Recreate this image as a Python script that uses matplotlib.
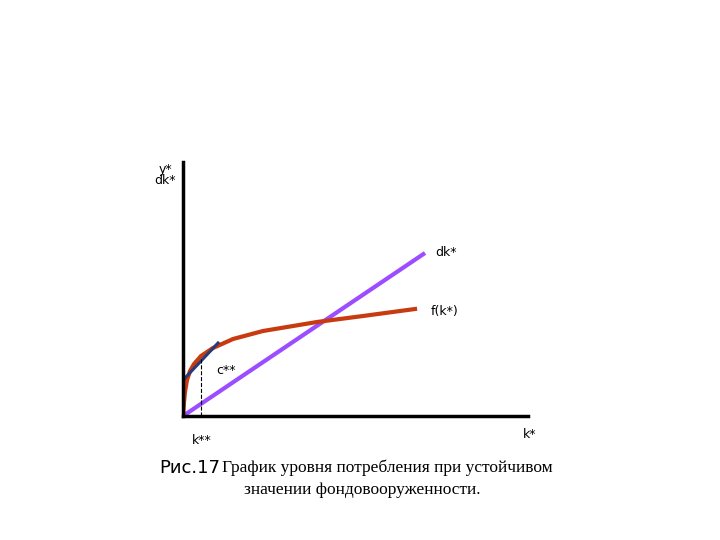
import matplotlib.pyplot as plt

# curve f(k*) (axes units)
fk_x = [0, 1, 2, 4, 7, 11, 18, 30, 50, 80, 110, 134, 180, 232]
fk_y = [0, 14, 24, 36, 45, 52, 60, 68, 77, 85, 90, 94, 100, 107]
dk_x = [0, 242]
dk_y = [0, 163]
tan_x = [2, 35]
tan_y = [38, 73]
k_star2 = 18
c_star2 = 58

fig = plt.figure(figsize=(7.2, 5.4), dpi=100)
ax = fig.add_axes([183/720, 124/540, 345/720, 254/540])
ax.set_xlim(0, 345)
ax.set_ylim(0, 254)
for s in ['top', 'right']:
    ax.spines[s].set_visible(False)
for s in ['left', 'bottom']:
    ax.spines[s].set_linewidth(2.5)
ax.set_xticks([])
ax.set_yticks([])
ax.patch.set_alpha(0)

ax.plot(dk_x, dk_y, color='#9b4dff', lw=3, solid_capstyle='butt')
ax.plot(fk_x, fk_y, color='#c83a10', lw=3)
ax.plot(tan_x, tan_y, color='#2a3a78', lw=2.2)
ax.plot([k_star2, k_star2], [0, c_star2], 'k--', lw=0.8)

kw = dict(fontsize=9, fontfamily='DejaVu Sans')
fig.text(165/720, 1-175/540, 'y*\ndk*', ha='center', va='center', linespacing=0.9, **kw)
fig.text(435/720, 1-253/540, 'dk*', ha='left', va='center', **kw)
fig.text(431/720, 1-311/540, 'f(k*)', ha='left', va='center', **kw)
fig.text(216/720, 1-370/540, 'c**', ha='left', va='center', **kw)
fig.text(192/720, 1-441/540, 'k**', ha='left', va='center', **kw)
fig.text(523/720, 1-435/540, 'k*', ha='left', va='center', **kw)

fig.text(159/720, 1-468/540, 'Рис.17', fontsize=13, fontfamily='DejaVu Sans', va='center')
fig.text(222/720, 1-468/540, 'График уровня потребления при устойчивом',
         fontsize=12.5, fontfamily='Liberation Serif', va='center')
fig.text(362/720, 1-490/540, 'значении фондовооруженности.',
         fontsize=12.5, fontfamily='Liberation Serif', va='center', ha='center')

fig.savefig('out.png', dpi=100)
